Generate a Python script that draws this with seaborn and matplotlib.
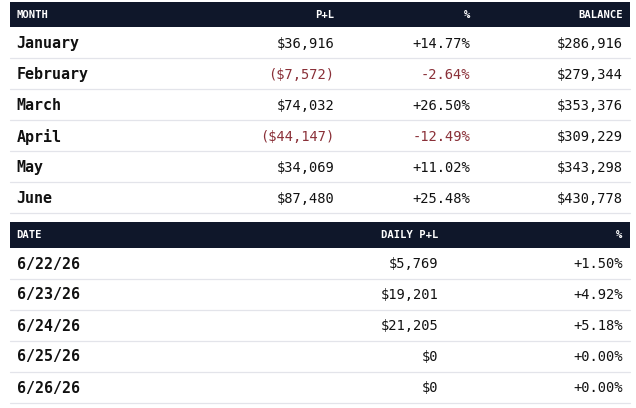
import matplotlib
matplotlib.use("Agg")
import matplotlib.pyplot as plt
import seaborn as sns

# ---- data ----
months = ["January", "February", "March", "April", "May", "June"]
month_pnl = [36916, -7572, 74032, -44147, 34069, 87480]
month_pct = [14.77, -2.64, 26.50, -12.49, 11.02, 25.48]
month_balance = [286916, 279344, 353376, 309229, 343298, 430778]

month_headers = ["MONTH", "P+L", "%", "BALANCE"]

dates = ["6/22/26", "6/23/26", "6/24/26", "6/25/26", "6/26/26"]
daily_pnl = [5769, 19201, 21205, 0, 0]
daily_pct = [1.50, 4.92, 5.18, 0.00, 0.00]

daily_headers = ["DATE", "DAILY P+L", "%"]

# ---- style ----
sns.set_theme(style="white")
plt.rcParams['font.family'] = ['DejaVu Sans Mono', 'DejaVu Sans']

HEADER_BG = "#0f172a"
LINE_C = "#e3e4ea"
TEXT_C = "#111111"
NEG_C = "#8a3038"

fig = plt.figure(figsize=(6.36, 4.08), dpi=100)
ax = fig.add_axes([0, 0, 1, 1])
ax.set_xlim(0, 636)
ax.set_ylim(408, 0)
ax.axis("off")

X0, X1 = 10, 629.5


def money(v):
    return f"${v:,.0f}" if v >= 0 else f"(${-v:,.0f})"


def pct(v):
    return f"{v:+.2f}%"


def header(y0, y1, labels, xs, aligns):
    ax.fill_between([X0, X1], y0, y1, color=HEADER_BG, linewidth=0)
    yc = (y0 + y1) / 2 + 0.3
    for lab, x, ha in zip(labels, xs, aligns):
        ax.text(x, yc, lab, color="white", fontsize=7.6, fontweight="bold",
                ha=ha, va="center", family=['DejaVu Sans Mono'])


# ---- table 1 ----
h1_top, h1_bot = 2, 27.3
row_h = 31
col1_x = [16.5, 334.5, 470.5, 622.7]
header(h1_top, h1_bot, month_headers, col1_x, ["left", "right", "right", "right"])
for i, m in enumerate(months):
    y_line = h1_bot + row_h * (i + 1)
    yc = y_line - row_h / 2 + 0.8
    ax.text(col1_x[0], yc, m, fontsize=10.8, fontweight="bold", color=TEXT_C,
            ha="left", va="center")
    c = NEG_C if month_pnl[i] < 0 else TEXT_C
    ax.text(col1_x[1], yc, money(month_pnl[i]), fontsize=9.9, color=c,
            ha="right", va="center")
    c = NEG_C if month_pct[i] < 0 else TEXT_C
    ax.text(col1_x[2], yc, pct(month_pct[i]), fontsize=9.9, color=c,
            ha="right", va="center")
    ax.text(col1_x[3], yc, money(month_balance[i]), fontsize=9.9, color=TEXT_C,
            ha="right", va="center")
    ax.plot([X0, X1], [y_line, y_line], color=LINE_C, linewidth=0.9)

# ---- table 2 ----
h2_top, h2_bot = 222, 247.7
col2_x = [16.5, 438.7, 622.7]
header(h2_top, h2_bot, daily_headers, col2_x, ["left", "right", "right"])
for i, d in enumerate(dates):
    y_line = h2_bot + row_h * (i + 1)
    yc = y_line - row_h / 2 + 0.8
    ax.text(col2_x[0], yc, d, fontsize=10.8, fontweight="bold", color=TEXT_C,
            ha="left", va="center")
    c = NEG_C if daily_pnl[i] < 0 else TEXT_C
    ax.text(col2_x[1], yc, money(daily_pnl[i]), fontsize=9.9, color=c,
            ha="right", va="center")
    c = NEG_C if daily_pct[i] < 0 else TEXT_C
    ax.text(col2_x[2], yc, pct(daily_pct[i]), fontsize=9.9, color=c,
            ha="right", va="center")
    ax.plot([X0, X1], [y_line, y_line], color=LINE_C, linewidth=0.9)

fig.savefig("out.png", dpi=100, facecolor="white")
